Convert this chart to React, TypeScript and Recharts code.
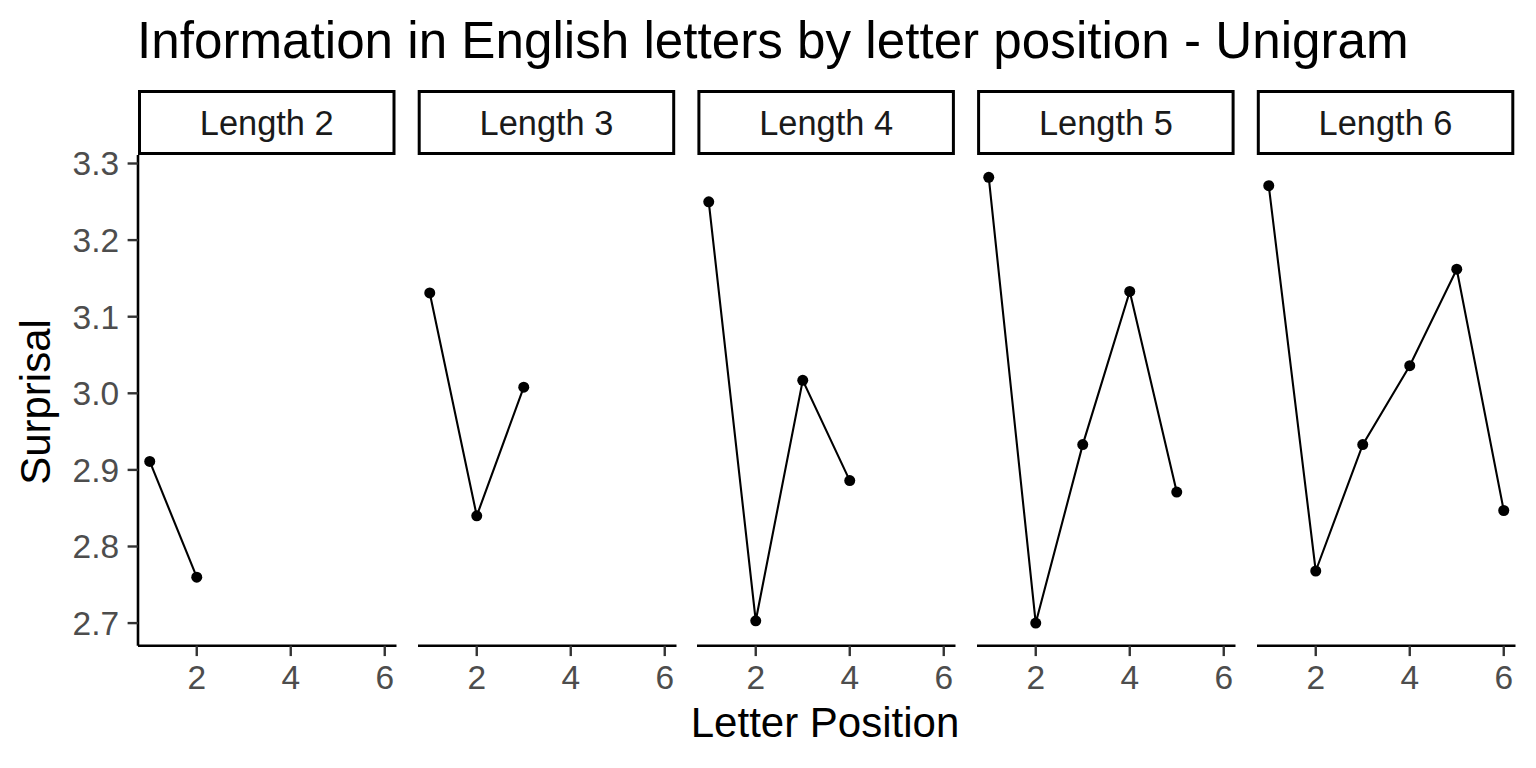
import React from 'react';
import { LineChart, Line, XAxis, YAxis } from 'recharts';

// letter positions and surprisal per word length
const positions = [1, 2, 3, 4, 5, 6];
const panelLabels = ['Length 2', 'Length 3', 'Length 4', 'Length 5', 'Length 6'];
const length2 = [2.911, 2.76];
const length3 = [3.131, 2.84, 3.008];
const length4 = [3.25, 2.703, 3.017, 2.886];
const length5 = [3.282, 2.7, 2.933, 3.133, 2.871];
const length6 = [3.271, 2.768, 2.933, 3.036, 3.162, 2.847];
const xTicks = [2, 4, 6];
const yTicks = [2.7, 2.8, 2.9, 3.0, 3.1, 3.2, 3.3];

const seriesByPanel = [length2, length3, length4, length5, length6];

const FONT = '"Liberation Sans", Arial, Helvetica, sans-serif';
const PANEL_W = 258.5;
const PANEL_STEP = 279.7;
const FIRST_LEFT = 138;
const PLOT_TOP = 155;
const PLOT_H = 490.7;
const TOP_PAD = 25;
const Y_AXIS_W = 130;
const X_AXIS_H = 60;

const tickStyle = { fill: '#4D4D4D', fontSize: 33.5, fontFamily: FONT };
const tickLineStyle = { stroke: '#333333', strokeWidth: 2.4 };
const axisLineStyle = { stroke: '#000000', strokeWidth: 2.6 };

const Panel = ({ values, index }: { values: number[]; index: number }) => {
  const data = values.map((v, i) => ({ pos: positions[i], value: v }));
  const first = index === 0;
  const leftPad = first ? Y_AXIS_W : 8;
  const panelLeft = FIRST_LEFT + index * PANEL_STEP;
  const width = leftPad + PANEL_W + 8;
  const height = TOP_PAD + PLOT_H + X_AXIS_H;

  return (
    <div style={{ position: 'absolute', left: panelLeft - leftPad, top: PLOT_TOP - TOP_PAD }}>
      <LineChart
        width={width}
        height={height}
        data={data}
        margin={{ top: TOP_PAD, right: 8, bottom: 0, left: first ? 0 : leftPad }}
      >
        <XAxis
          dataKey="pos"
          type="number"
          domain={[0.75, 6.25]}
          ticks={xTicks}
          interval={0}
          height={X_AXIS_H}
          tick={tickStyle}
          tickLine={tickLineStyle}
          axisLine={axisLineStyle}
          tickSize={10.4}
          tickMargin={9}
        />
        <YAxis
          type="number"
          domain={[2.6705, 3.3111]}
          ticks={yTicks}
          interval={0}
          hide={!first}
          width={Y_AXIS_W}
          tick={tickStyle}
          tickLine={tickLineStyle}
          axisLine={axisLineStyle}
          tickSize={10.4}
          tickMargin={8.5}
          tickFormatter={(v: number) => v.toFixed(1)}
        />
        <Line
          type="linear"
          dataKey="value"
          stroke="#000000"
          strokeWidth={2.1}
          dot={{ r: 5.5, fill: '#000000', stroke: 'none', strokeWidth: 0 }}
          activeDot={false}
          isAnimationActive={false}
        />
      </LineChart>
    </div>
  );
};

export default function App() {
  return (
    <div
      style={{
        position: 'absolute',
        left: 0,
        top: 0,
        width: 1536,
        height: 768,
        background: '#ffffff',
        fontFamily: FONT,
        overflow: 'hidden',
      }}
    >
      {seriesByPanel.map((values, i) => (
        <Panel key={panelLabels[i]} values={values} index={i} />
      ))}
      <svg
        width={1536}
        height={768}
        style={{ position: 'absolute', left: 0, top: 0, pointerEvents: 'none' }}
      >
        <text x={137} y={58.3} fontSize={51.2} fontFamily={FONT} fill="#000000">
          Information in English letters by letter position - Unigram
        </text>
        {panelLabels.map((label, i) => {
          const left = FIRST_LEFT + i * PANEL_STEP;
          return (
            <g key={label}>
              <rect
                x={left + 1.5}
                y={91.5}
                width={257.5 - 3}
                height={62}
                fill="#ffffff"
                stroke="#000000"
                strokeWidth={3}
              />
              <text
                x={left + 257.5 / 2}
                y={135}
                textAnchor="middle"
                fontSize={34.4}
                fontFamily={FONT}
                fill="#1A1A1A"
              >
                {label}
              </text>
            </g>
          );
        })}
        <text
          x={50}
          y={402}
          transform="rotate(-90, 50, 402)"
          textAnchor="middle"
          fontSize={42}
          fontFamily={FONT}
          fill="#000000"
        >
          Surprisal
        </text>
        <text x={825} y={737} textAnchor="middle" fontSize={42} fontFamily={FONT} fill="#000000">
          Letter Position
        </text>
      </svg>
    </div>
  );
}
